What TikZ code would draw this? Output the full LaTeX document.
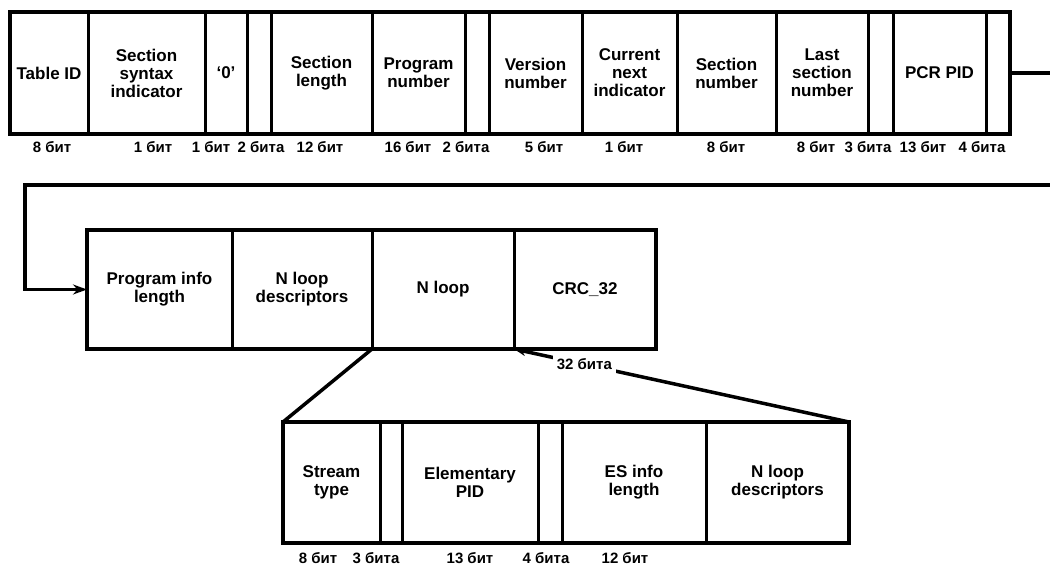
\documentclass[tikz,border=0pt]{standalone}
\usepackage{fontspec}
\setmainfont{Liberation Sans}
\usetikzlibrary{arrows.meta,calc}
\newcommand\fsz{\fontsize{17}{18}\selectfont\bfseries}
\newcommand\bsz{\fontsize{15}{16}\selectfont\bfseries}
\tikzset{
	fld/.style={draw,line width=3pt,outer sep=0pt,inner sep=0pt,align=center,font=\fsz},
	frame/.style={line width=4.5pt},
	link/.style={line width=3.5pt},
	bits/.style={inner sep=1pt,font=\bsz}
}
\begin{document}
\begin{tikzpicture}[x=1pt,y=-1pt]
		\useasboundingbox (0,0) rectangle (1050,567);
		% top row
		\foreach \a/\b/\t [count=\i] in {10/88/Table ID,88/205/Section\\syntax\\indicator,205/247/`0',247/271/,271/372/Section\\length,372/465/Program\\number,465/489/,489/582/Version\\number,582/677/Current\\next\\indicator,677/776/Section\\number,776/868/Last\\section\\number,868/893/,893/986/PCR PID,986/1010/}
			\node[fld,minimum width={\b-\a},minimum height=122] (t\i) at ({(\a+\b)/2},73) {\t};
		\draw[frame] (t1.north west) rectangle (t14.south east);
		\foreach \x/\t [count=\i] in {52/8 бит,153/1 бит,211/1 бит,261/2 бита,320/12 бит,408/16 бит,466/2 бита,544/5 бит,624/1 бит,726/8 бит,816/8 бит,868/3 бита,923/13 бит,982/4 бита}
			\node[bits] (u\i) at (\x,147) {\t};
		% middle row
		\foreach \a/\b/\t [count=\i] in {87/232/Program info\\length,232/372/N loop\\descriptors,372/514/N loop,514/656/CRC\_32}
			\node[fld,minimum width={\b-\a},minimum height=119] (m\i) at ({(\a+\b)/2},289.5) {\t};
		\draw[frame] (m1.north west) rectangle (m4.south east);
		% bottom row
		\foreach \a/\b/\t [count=\i] in {283/380/Stream\\type,380/402/,402/538/Elementary\\PID,538/562/,562/706/ES info\\length,706/849/N loop\\descriptors}
			\node[fld,minimum width={\b-\a},minimum height=121] (b\i) at ({(\a+\b)/2},482.5) {\t};
		\draw[frame] (b1.north west) rectangle (b6.south east);
		\foreach \x/\t [count=\i] in {318/8 бит,376/3 бита,470/13 бит,546/4 бита,625/12 бит}
			\node[bits] (v\i) at (\x,558) {\t};
		% wrap-around connector
		\path (1050,73) coordinate (outA) (1050,185) coordinate (outB) (25,185) coordinate (turn);
		\draw[link] (t14.east) -- (outA);
		\draw[link,-{Stealth[length=14pt,width=10pt]}] (outB) -- (turn) |- (m1.west);
		% expansion of the loop
		\draw[link] (m3.south west) -- (b1.north west);
		\draw[link,{Stealth[length=12pt,width=9pt]}-] (m3.south east) -- (b6.north east) node[bits,pos=.21,fill=white,inner sep=4pt] (crc) {32 бита};
	\end{tikzpicture}
\end{document}
